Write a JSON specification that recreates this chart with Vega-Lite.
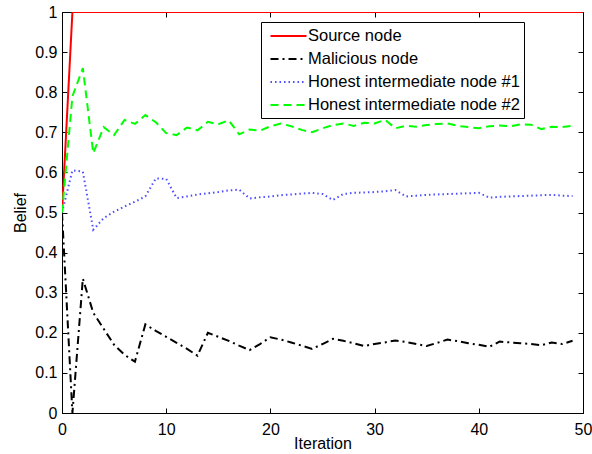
{
  "$schema": "https://vega.github.io/schema/vega-lite/v6.json",
  "width": 521,
  "height": 401,
  "autosize": "none",
  "padding": {"left": 62, "top": 12, "right": 9, "bottom": 41},
  "background": "white",
  "config": {
    "font": "Liberation Sans",
    "view": {"stroke": "black", "strokeWidth": 1},
    "axis": {
      "grid": false,
      "domainColor": "black",
      "tickColor": "black",
      "labelColor": "black",
      "titleColor": "black",
      "labelFont": "Liberation Sans",
      "titleFont": "Liberation Sans",
      "labelFontSize": 16,
      "titleFontSize": 16,
      "titleFontWeight": "normal",
      "tickSize": -5,
      "labelFlush": false,
      "labelOverlap": false
    },
    "legend": {
      "orient": "none",
      "legendX": 199,
      "legendY": 10,
      "strokeColor": "black",
      "fillColor": "white",
      "padding": 4,
      "labelFont": "Liberation Sans",
      "labelFontSize": 16.5,
      "labelColor": "black",
      "symbolType": "M-0.5,0H3.5",
      "symbolSize": 324,
      "symbolStrokeWidth": 2,
      "rowPadding": 4,
      "labelOffset": 23,
      "cornerRadius": 0,
      "labelLimit": 400
    }
  },
  "data": {
    "values": [
      {"iteration": 0, "belief": 0.5, "node": "Source node"},
      {"iteration": 1, "belief": 1, "node": "Source node"},
      {"iteration": 2, "belief": 1, "node": "Source node"},
      {"iteration": 3, "belief": 1, "node": "Source node"},
      {"iteration": 4, "belief": 1, "node": "Source node"},
      {"iteration": 5, "belief": 1, "node": "Source node"},
      {"iteration": 6, "belief": 1, "node": "Source node"},
      {"iteration": 7, "belief": 1, "node": "Source node"},
      {"iteration": 8, "belief": 1, "node": "Source node"},
      {"iteration": 9, "belief": 1, "node": "Source node"},
      {"iteration": 10, "belief": 1, "node": "Source node"},
      {"iteration": 11, "belief": 1, "node": "Source node"},
      {"iteration": 12, "belief": 1, "node": "Source node"},
      {"iteration": 13, "belief": 1, "node": "Source node"},
      {"iteration": 14, "belief": 1, "node": "Source node"},
      {"iteration": 15, "belief": 1, "node": "Source node"},
      {"iteration": 16, "belief": 1, "node": "Source node"},
      {"iteration": 17, "belief": 1, "node": "Source node"},
      {"iteration": 18, "belief": 1, "node": "Source node"},
      {"iteration": 19, "belief": 1, "node": "Source node"},
      {"iteration": 20, "belief": 1, "node": "Source node"},
      {"iteration": 21, "belief": 1, "node": "Source node"},
      {"iteration": 22, "belief": 1, "node": "Source node"},
      {"iteration": 23, "belief": 1, "node": "Source node"},
      {"iteration": 24, "belief": 1, "node": "Source node"},
      {"iteration": 25, "belief": 1, "node": "Source node"},
      {"iteration": 26, "belief": 1, "node": "Source node"},
      {"iteration": 27, "belief": 1, "node": "Source node"},
      {"iteration": 28, "belief": 1, "node": "Source node"},
      {"iteration": 29, "belief": 1, "node": "Source node"},
      {"iteration": 30, "belief": 1, "node": "Source node"},
      {"iteration": 31, "belief": 1, "node": "Source node"},
      {"iteration": 32, "belief": 1, "node": "Source node"},
      {"iteration": 33, "belief": 1, "node": "Source node"},
      {"iteration": 34, "belief": 1, "node": "Source node"},
      {"iteration": 35, "belief": 1, "node": "Source node"},
      {"iteration": 36, "belief": 1, "node": "Source node"},
      {"iteration": 37, "belief": 1, "node": "Source node"},
      {"iteration": 38, "belief": 1, "node": "Source node"},
      {"iteration": 39, "belief": 1, "node": "Source node"},
      {"iteration": 40, "belief": 1, "node": "Source node"},
      {"iteration": 41, "belief": 1, "node": "Source node"},
      {"iteration": 42, "belief": 1, "node": "Source node"},
      {"iteration": 43, "belief": 1, "node": "Source node"},
      {"iteration": 44, "belief": 1, "node": "Source node"},
      {"iteration": 45, "belief": 1, "node": "Source node"},
      {"iteration": 46, "belief": 1, "node": "Source node"},
      {"iteration": 47, "belief": 1, "node": "Source node"},
      {"iteration": 48, "belief": 1, "node": "Source node"},
      {"iteration": 49, "belief": 1, "node": "Source node"},
      {"iteration": 50, "belief": 1, "node": "Source node"},

      {"iteration": 0, "belief": 0.5, "node": "Malicious node"},
      {"iteration": 1, "belief": 0.0, "node": "Malicious node"},
      {"iteration": 2, "belief": 0.335, "node": "Malicious node"},
      {"iteration": 3, "belief": 0.25, "node": "Malicious node"},
      {"iteration": 4, "belief": 0.21, "node": "Malicious node"},
      {"iteration": 5, "belief": 0.17, "node": "Malicious node"},
      {"iteration": 6, "belief": 0.145, "node": "Malicious node"},
      {"iteration": 7, "belief": 0.128, "node": "Malicious node"},
      {"iteration": 8, "belief": 0.221, "node": "Malicious node"},
      {"iteration": 9, "belief": 0.205, "node": "Malicious node"},
      {"iteration": 10, "belief": 0.19, "node": "Malicious node"},
      {"iteration": 11, "belief": 0.175, "node": "Malicious node"},
      {"iteration": 12, "belief": 0.16, "node": "Malicious node"},
      {"iteration": 13, "belief": 0.143, "node": "Malicious node"},
      {"iteration": 14, "belief": 0.2, "node": "Malicious node"},
      {"iteration": 15, "belief": 0.19, "node": "Malicious node"},
      {"iteration": 16, "belief": 0.18, "node": "Malicious node"},
      {"iteration": 17, "belief": 0.168, "node": "Malicious node"},
      {"iteration": 18, "belief": 0.157, "node": "Malicious node"},
      {"iteration": 19, "belief": 0.172, "node": "Malicious node"},
      {"iteration": 20, "belief": 0.189, "node": "Malicious node"},
      {"iteration": 21, "belief": 0.183, "node": "Malicious node"},
      {"iteration": 22, "belief": 0.176, "node": "Malicious node"},
      {"iteration": 23, "belief": 0.168, "node": "Malicious node"},
      {"iteration": 24, "belief": 0.16, "node": "Malicious node"},
      {"iteration": 25, "belief": 0.172, "node": "Malicious node"},
      {"iteration": 26, "belief": 0.185, "node": "Malicious node"},
      {"iteration": 27, "belief": 0.18, "node": "Malicious node"},
      {"iteration": 28, "belief": 0.174, "node": "Malicious node"},
      {"iteration": 29, "belief": 0.167, "node": "Malicious node"},
      {"iteration": 30, "belief": 0.172, "node": "Malicious node"},
      {"iteration": 31, "belief": 0.176, "node": "Malicious node"},
      {"iteration": 32, "belief": 0.181, "node": "Malicious node"},
      {"iteration": 33, "belief": 0.177, "node": "Malicious node"},
      {"iteration": 34, "belief": 0.172, "node": "Malicious node"},
      {"iteration": 35, "belief": 0.167, "node": "Malicious node"},
      {"iteration": 36, "belief": 0.175, "node": "Malicious node"},
      {"iteration": 37, "belief": 0.183, "node": "Malicious node"},
      {"iteration": 38, "belief": 0.179, "node": "Malicious node"},
      {"iteration": 39, "belief": 0.174, "node": "Malicious node"},
      {"iteration": 40, "belief": 0.17, "node": "Malicious node"},
      {"iteration": 41, "belief": 0.165, "node": "Malicious node"},
      {"iteration": 42, "belief": 0.178, "node": "Malicious node"},
      {"iteration": 43, "belief": 0.176, "node": "Malicious node"},
      {"iteration": 44, "belief": 0.174, "node": "Malicious node"},
      {"iteration": 45, "belief": 0.172, "node": "Malicious node"},
      {"iteration": 46, "belief": 0.169, "node": "Malicious node"},
      {"iteration": 47, "belief": 0.176, "node": "Malicious node"},
      {"iteration": 48, "belief": 0.172, "node": "Malicious node"},
      {"iteration": 49, "belief": 0.18, "node": "Malicious node"},

      {"iteration": 0, "belief": 0.5, "node": "Honest intermediate node #1"},
      {"iteration": 1, "belief": 0.605, "node": "Honest intermediate node #1"},
      {"iteration": 2, "belief": 0.602, "node": "Honest intermediate node #1"},
      {"iteration": 3, "belief": 0.457, "node": "Honest intermediate node #1"},
      {"iteration": 4, "belief": 0.486, "node": "Honest intermediate node #1"},
      {"iteration": 5, "belief": 0.502, "node": "Honest intermediate node #1"},
      {"iteration": 6, "belief": 0.515, "node": "Honest intermediate node #1"},
      {"iteration": 7, "belief": 0.527, "node": "Honest intermediate node #1"},
      {"iteration": 8, "belief": 0.54, "node": "Honest intermediate node #1"},
      {"iteration": 9, "belief": 0.585, "node": "Honest intermediate node #1"},
      {"iteration": 10, "belief": 0.584, "node": "Honest intermediate node #1"},
      {"iteration": 11, "belief": 0.536, "node": "Honest intermediate node #1"},
      {"iteration": 12, "belief": 0.54, "node": "Honest intermediate node #1"},
      {"iteration": 13, "belief": 0.545, "node": "Honest intermediate node #1"},
      {"iteration": 14, "belief": 0.548, "node": "Honest intermediate node #1"},
      {"iteration": 15, "belief": 0.551, "node": "Honest intermediate node #1"},
      {"iteration": 16, "belief": 0.555, "node": "Honest intermediate node #1"},
      {"iteration": 17, "belief": 0.557, "node": "Honest intermediate node #1"},
      {"iteration": 18, "belief": 0.535, "node": "Honest intermediate node #1"},
      {"iteration": 19, "belief": 0.538, "node": "Honest intermediate node #1"},
      {"iteration": 20, "belief": 0.54, "node": "Honest intermediate node #1"},
      {"iteration": 21, "belief": 0.543, "node": "Honest intermediate node #1"},
      {"iteration": 22, "belief": 0.545, "node": "Honest intermediate node #1"},
      {"iteration": 23, "belief": 0.547, "node": "Honest intermediate node #1"},
      {"iteration": 24, "belief": 0.549, "node": "Honest intermediate node #1"},
      {"iteration": 25, "belief": 0.546, "node": "Honest intermediate node #1"},
      {"iteration": 26, "belief": 0.531, "node": "Honest intermediate node #1"},
      {"iteration": 27, "belief": 0.546, "node": "Honest intermediate node #1"},
      {"iteration": 28, "belief": 0.549, "node": "Honest intermediate node #1"},
      {"iteration": 29, "belief": 0.55, "node": "Honest intermediate node #1"},
      {"iteration": 30, "belief": 0.551, "node": "Honest intermediate node #1"},
      {"iteration": 31, "belief": 0.553, "node": "Honest intermediate node #1"},
      {"iteration": 32, "belief": 0.556, "node": "Honest intermediate node #1"},
      {"iteration": 33, "belief": 0.54, "node": "Honest intermediate node #1"},
      {"iteration": 34, "belief": 0.542, "node": "Honest intermediate node #1"},
      {"iteration": 35, "belief": 0.544, "node": "Honest intermediate node #1"},
      {"iteration": 36, "belief": 0.545, "node": "Honest intermediate node #1"},
      {"iteration": 37, "belief": 0.546, "node": "Honest intermediate node #1"},
      {"iteration": 38, "belief": 0.547, "node": "Honest intermediate node #1"},
      {"iteration": 39, "belief": 0.548, "node": "Honest intermediate node #1"},
      {"iteration": 40, "belief": 0.549, "node": "Honest intermediate node #1"},
      {"iteration": 41, "belief": 0.537, "node": "Honest intermediate node #1"},
      {"iteration": 42, "belief": 0.539, "node": "Honest intermediate node #1"},
      {"iteration": 43, "belief": 0.54, "node": "Honest intermediate node #1"},
      {"iteration": 44, "belief": 0.541, "node": "Honest intermediate node #1"},
      {"iteration": 45, "belief": 0.542, "node": "Honest intermediate node #1"},
      {"iteration": 46, "belief": 0.543, "node": "Honest intermediate node #1"},
      {"iteration": 47, "belief": 0.544, "node": "Honest intermediate node #1"},
      {"iteration": 48, "belief": 0.542, "node": "Honest intermediate node #1"},
      {"iteration": 49, "belief": 0.541, "node": "Honest intermediate node #1"},

      {"iteration": 0, "belief": 0.5, "node": "Honest intermediate node #2"},
      {"iteration": 1, "belief": 0.79, "node": "Honest intermediate node #2"},
      {"iteration": 2, "belief": 0.86, "node": "Honest intermediate node #2"},
      {"iteration": 3, "belief": 0.648, "node": "Honest intermediate node #2"},
      {"iteration": 4, "belief": 0.713, "node": "Honest intermediate node #2"},
      {"iteration": 5, "belief": 0.693, "node": "Honest intermediate node #2"},
      {"iteration": 6, "belief": 0.731, "node": "Honest intermediate node #2"},
      {"iteration": 7, "belief": 0.721, "node": "Honest intermediate node #2"},
      {"iteration": 8, "belief": 0.743, "node": "Honest intermediate node #2"},
      {"iteration": 9, "belief": 0.725, "node": "Honest intermediate node #2"},
      {"iteration": 10, "belief": 0.698, "node": "Honest intermediate node #2"},
      {"iteration": 11, "belief": 0.693, "node": "Honest intermediate node #2"},
      {"iteration": 12, "belief": 0.712, "node": "Honest intermediate node #2"},
      {"iteration": 13, "belief": 0.705, "node": "Honest intermediate node #2"},
      {"iteration": 14, "belief": 0.726, "node": "Honest intermediate node #2"},
      {"iteration": 15, "belief": 0.72, "node": "Honest intermediate node #2"},
      {"iteration": 16, "belief": 0.73, "node": "Honest intermediate node #2"},
      {"iteration": 17, "belief": 0.695, "node": "Honest intermediate node #2"},
      {"iteration": 18, "belief": 0.707, "node": "Honest intermediate node #2"},
      {"iteration": 19, "belief": 0.704, "node": "Honest intermediate node #2"},
      {"iteration": 20, "belief": 0.715, "node": "Honest intermediate node #2"},
      {"iteration": 21, "belief": 0.722, "node": "Honest intermediate node #2"},
      {"iteration": 22, "belief": 0.715, "node": "Honest intermediate node #2"},
      {"iteration": 23, "belief": 0.706, "node": "Honest intermediate node #2"},
      {"iteration": 24, "belief": 0.7, "node": "Honest intermediate node #2"},
      {"iteration": 25, "belief": 0.71, "node": "Honest intermediate node #2"},
      {"iteration": 26, "belief": 0.718, "node": "Honest intermediate node #2"},
      {"iteration": 27, "belief": 0.722, "node": "Honest intermediate node #2"},
      {"iteration": 28, "belief": 0.716, "node": "Honest intermediate node #2"},
      {"iteration": 29, "belief": 0.724, "node": "Honest intermediate node #2"},
      {"iteration": 30, "belief": 0.722, "node": "Honest intermediate node #2"},
      {"iteration": 31, "belief": 0.731, "node": "Honest intermediate node #2"},
      {"iteration": 32, "belief": 0.71, "node": "Honest intermediate node #2"},
      {"iteration": 33, "belief": 0.716, "node": "Honest intermediate node #2"},
      {"iteration": 34, "belief": 0.714, "node": "Honest intermediate node #2"},
      {"iteration": 35, "belief": 0.718, "node": "Honest intermediate node #2"},
      {"iteration": 36, "belief": 0.721, "node": "Honest intermediate node #2"},
      {"iteration": 37, "belief": 0.722, "node": "Honest intermediate node #2"},
      {"iteration": 38, "belief": 0.716, "node": "Honest intermediate node #2"},
      {"iteration": 39, "belief": 0.713, "node": "Honest intermediate node #2"},
      {"iteration": 40, "belief": 0.71, "node": "Honest intermediate node #2"},
      {"iteration": 41, "belief": 0.715, "node": "Honest intermediate node #2"},
      {"iteration": 42, "belief": 0.717, "node": "Honest intermediate node #2"},
      {"iteration": 43, "belief": 0.715, "node": "Honest intermediate node #2"},
      {"iteration": 44, "belief": 0.72, "node": "Honest intermediate node #2"},
      {"iteration": 45, "belief": 0.719, "node": "Honest intermediate node #2"},
      {"iteration": 46, "belief": 0.708, "node": "Honest intermediate node #2"},
      {"iteration": 47, "belief": 0.714, "node": "Honest intermediate node #2"},
      {"iteration": 48, "belief": 0.713, "node": "Honest intermediate node #2"},
      {"iteration": 49, "belief": 0.716, "node": "Honest intermediate node #2"}
    ]
  },
  "layer": [
    {
      "mark": {"type": "line", "clip": true},
      "encoding": {
        "x": {
          "field": "iteration",
          "type": "quantitative",
          "scale": {"domain": [0, 50], "nice": false, "zero": false},
          "axis": {"orient": "bottom", "values": [0, 10, 20, 30, 40, 50], "title": "Iteration", "labelPadding": 13, "titlePadding": -2}
        },
        "y": {
          "field": "belief",
          "type": "quantitative",
          "scale": {"domain": [0, 1], "nice": false},
          "axis": {"orient": "left", "values": [0, 0.1, 0.2, 0.3, 0.4, 0.5, 0.6, 0.7, 0.8, 0.9, 1], "format": "~g", "title": "Belief", "labelPadding": 10, "titlePadding": 6}
        },
        "color": {
          "field": "node",
          "type": "nominal",
          "scale": {
            "domain": ["Source node", "Malicious node", "Honest intermediate node #1", "Honest intermediate node #2"],
            "range": ["#ff0000", "#000000", "#4d4dff", "#00ff00"]
          },
          "legend": {"title": null}
        },
        "strokeDash": {
          "field": "node",
          "type": "nominal",
          "scale": {
            "domain": ["Source node", "Malicious node", "Honest intermediate node #1", "Honest intermediate node #2"],
            "range": [[1, 0], [8, 4, 2, 4], [1.5, 3], [8, 5]]
          },
          "legend": {"title": null}
        },
        "strokeWidth": {
          "field": "node",
          "type": "nominal",
          "scale": {
            "domain": ["Source node", "Malicious node", "Honest intermediate node #1", "Honest intermediate node #2"],
            "range": [2, 2, 1.5, 2.5]
          },
          "legend": null
        },
        "order": {"field": "iteration", "type": "quantitative"}
      }
    },
    {
      "mark": {"type": "line", "opacity": 0},
      "encoding": {
        "x": {
          "field": "iteration",
          "type": "quantitative",
          "axis": {"orient": "top", "values": [0, 10, 20, 30, 40, 50], "labels": false, "title": null}
        },
        "y": {
          "field": "belief",
          "type": "quantitative",
          "axis": {"orient": "right", "values": [0, 0.1, 0.2, 0.3, 0.4, 0.5, 0.6, 0.7, 0.8, 0.9, 1], "labels": false, "title": null}
        },
        "detail": {"field": "node", "type": "nominal"}
      }
    }
  ],
  "resolve": {"axis": {"x": "independent", "y": "independent"}}
}
